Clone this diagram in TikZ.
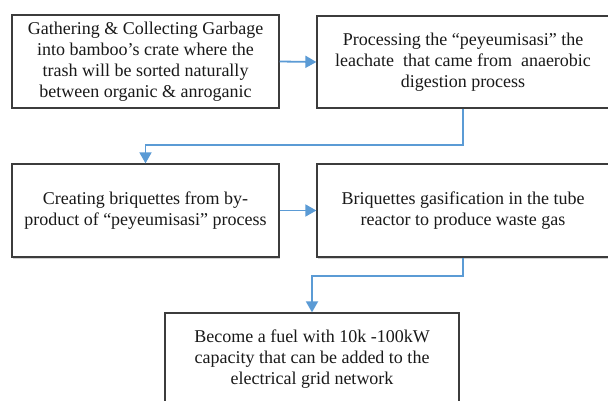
\documentclass[tikz,border=0pt]{standalone}
\usepackage{fontspec}
\setmainfont{LiberationSerif}[Extension=.ttf,UprightFont=*-Regular,BoldFont=*-Bold,Ligatures=TeX]
\usetikzlibrary{arrows.meta,shadows}
\definecolor{connblue}{RGB}{91,155,213}
\definecolor{boxline}{RGB}{60,60,60}
\begin{document}
\begin{tikzpicture}[x=1pt,y=-1pt,
  stepbox/.style={draw=boxline,line width=1.3pt,fill=white,inner sep=0pt,
    align=center,font=\rmfamily\fontsize{18}{21}\selectfont,text=black!90,
    drop shadow={shadow xshift=1.2pt,shadow yshift=-1.5pt,opacity=0.18,fill=black}},
  conn/.style={draw=connblue,line width=1.8pt,-{Triangle[length=11pt,width=12pt]}}]
\useasboundingbox[fill=white] (0,0) rectangle (608,401);
\node[stepbox,minimum width=267pt,minimum height=93pt] (b1) at (145.5,61.5)
  {Gathering \& Collecting Garbage\\into bamboo’s crate where the\\trash will be sorted naturally\\between organic \& anroganic};
\node[stepbox,minimum width=292pt,minimum height=92pt] (b2) at (463,62)
  {Processing the “peyeumisasi” the\\leachate\ \ that came from\ \ anaerobic\\digestion process};
\node[stepbox,minimum width=267pt,minimum height=93pt] (b3) at (145.5,210.5)
  {Creating briquettes from by-\\product of “peyeumisasi” process};
\node[stepbox,minimum width=292pt,minimum height=93pt] (b4) at (463,210.5)
  {Briquettes gasification in the tube\\reactor to produce waste gas};
\node[stepbox,minimum width=294pt,minimum height=93pt] (b5) at (312,359.5)
  {Become a fuel with 10k -100kW\\capacity that can be added to the\\electrical grid network};
\coordinate (k1) at (463,145);
\coordinate (k2) at (463,276);
\draw[conn] (b1.east) -- (b2.west);
\draw[conn] (b2.south) -- (k1) -| (b3.north);
\draw[conn] (b3.east) -- (b4.west);
\draw[conn] (b4.south) -- (k2) -| (b5.north);
\end{tikzpicture}
\end{document}
